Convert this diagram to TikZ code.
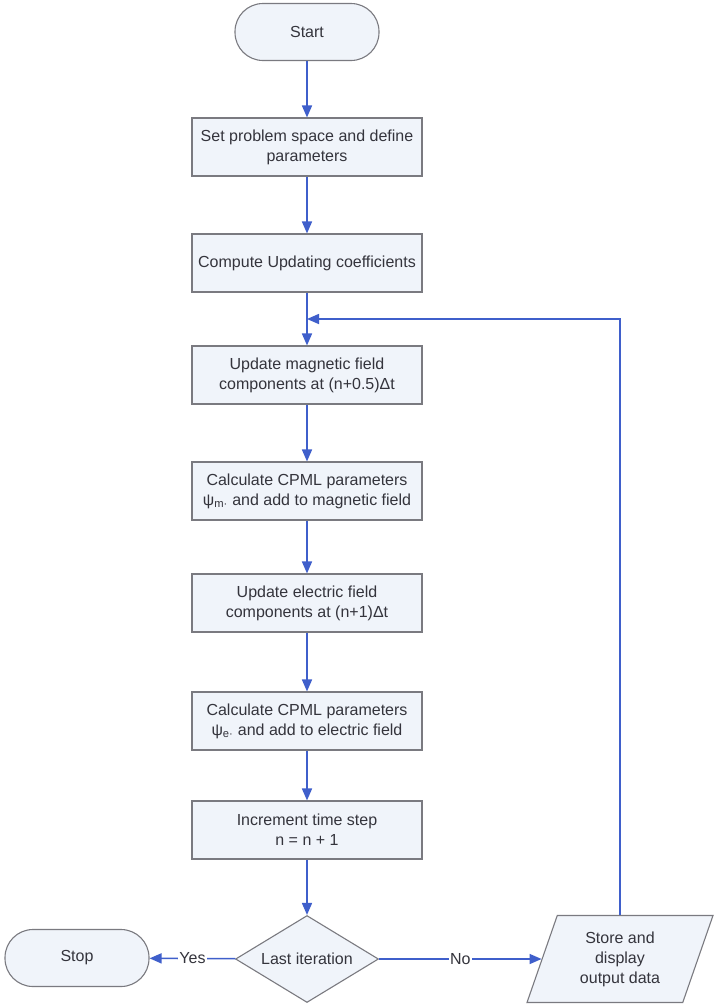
\documentclass[tikz,border=0pt]{standalone}
\usepackage{fontspec}
\setmainfont{Liberation Sans}
\usetikzlibrary{shapes.geometric,arrows.meta}
\definecolor{txt}{HTML}{34343C}
\definecolor{edge}{HTML}{7A7A80}
\definecolor{boxfill}{HTML}{F0F4FA}
\definecolor{flow}{HTML}{3F5FCB}
\tikzset{
  base/.style={draw=edge, line width=1.1pt, fill=boxfill, text=txt,
    font=\fontsize{16}{20}\selectfont, align=center},
  procbox/.style={base, rectangle, minimum width=230pt, minimum height=58pt, inner sep=2pt},
  terminal/.style={base, rectangle, rounded corners=28pt, minimum width=144pt, minimum height=57pt},
  decision/.style={base, diamond, aspect=1.64, minimum width=143pt, minimum height=87pt, inner sep=0pt},
  iobox/.style={base, trapezium, trapezium left angle=62, trapezium right angle=118,
    trapezium stretches body, minimum width=186pt, minimum height=87pt, inner sep=1pt},
  flowline/.style={draw=flow, line width=1.6pt, -{Triangle[length=12pt,width=10pt]}},
  lbl/.style={fill=white, text=txt, inner sep=1pt, font=\fontsize{16}{20}\selectfont}
}
\begin{document}
\begin{tikzpicture}[x=1pt,y=-1pt]
\fill[white] (0,0) rectangle (716,1005);
\useasboundingbox (0,0) rectangle (716,1005);
\node[terminal] (start) at (307,32) {Start};
\node[procbox] (b1) at (307,147) {Set problem space and define\\parameters};
\node[procbox] (b2) at (307,263) {Compute Updating coefficients};
\node[procbox] (b3) at (307,375) {Update magnetic field\\components at (n+0.5)Δt};
\node[procbox] (b4) at (307,491) {Calculate CPML parameters\\ψ\textsubscript{m·} and add to magnetic field};
\node[procbox] (b5) at (307,603) {Update electric field\\components at (n+1)Δt};
\node[procbox] (b6) at (307,721) {Calculate CPML parameters\\ψ\textsubscript{e·} and add to electric field};
\node[procbox] (b7) at (307,830) {Increment time step\\n = n + 1};
\node[decision] (dec) at (307,959) {Last iteration};
\node[terminal] (stop) at (77,958) {Stop};
\node[iobox] (store) at (620,959) {Store and\\display\\output data};
\coordinate (j) at (307,319);

\draw[flowline] (start) -- (b1);
\draw[flowline] (b1) -- (b2);
\draw[flowline] (b2) -- (b3);
\draw[flowline] (b3) -- (b4);
\draw[flowline] (b4) -- (b5);
\draw[flowline] (b5) -- (b6);
\draw[flowline] (b6) -- (b7);
\draw[flowline] (b7) -- (dec);
\draw[flowline] (dec) -- node[lbl] {Yes} (stop);
\draw[flowline] (dec) -- node[lbl] {No} (store);
\draw[flowline] (store.north) |- (j);
\end{tikzpicture}
\end{document}
